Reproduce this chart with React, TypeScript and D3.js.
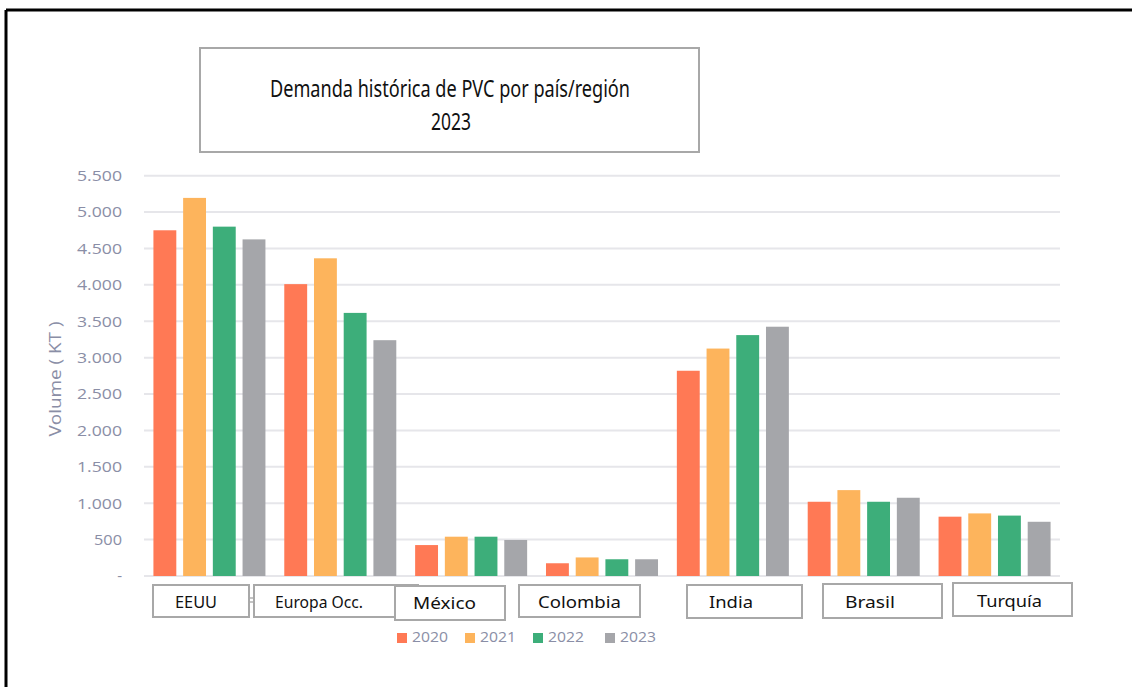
import React from "react";
import * as d3 from "d3";

const categories = ["EEUU", "Europa Occ.", "México", "Colombia", "India", "Brasil", "Turquía"];
const years = ["2020", "2021", "2022", "2023"];
const values2020 = [4750, 4010, 425, 175, 2820, 1020, 815];
const values2021 = [5195, 4365, 540, 255, 3125, 1180, 860];
const values2022 = [4800, 3615, 540, 230, 3310, 1020, 830];
const values2023 = [4625, 3240, 495, 230, 3425, 1075, 745];
const series = [values2020, values2021, values2022, values2023];
const colors = ["#FF7955", "#FDB45C", "#3DAE7A", "#A5A6AA"];
const yTicks = [0, 500, 1000, 1500, 2000, 2500, 3000, 3500, 4000, 4500, 5000, 5500];

// label boxes: left, top, width, height, text centre x, text width, baseline
const labelBoxes = [
  [153, 585, 96, 32, 196, 42, 608],
  [254, 585, 164, 32, 319, 88, 608],
  [395, 586, 110, 34, 444.5, 63, 609],
  [519, 585, 121, 32, 579.5, 83, 608],
  [687, 585, 115, 33, 731, 44, 608],
  [823, 584, 119, 34, 870, 50, 608],
  [953, 583, 119, 33, 1009.5, 65, 606.5],
];
const legendX = [397, 465, 533, 605];

const fmt = (v: number) => (v === 0 ? "-" : d3.format(",")(v).replace(/,/g, "."));

export default function App() {
  const W = 1132, H = 687;
  const x0 = d3.scaleBand<string>().domain(categories).range([144, 1060]).paddingInner(0.144).paddingOuter(0.072);
  const x1 = d3.scaleBand<string>().domain(years).range([0, x0.bandwidth()]).paddingInner(0.23);
  const y = d3.scaleLinear().domain([0, 5500]).range([576, 175.7]);
  const axisColor = "#8A8EA6";
  const font = "'Open Sans', sans-serif";
  const calibri = "'Noto Sans', sans-serif";

  return (
    <svg width={W} height={H} style={{ position: "absolute", left: 0, top: 0, background: "#fff" }}>
      <rect x={0} y={0} width={W} height={H} fill="#fff" />
      {/* outer frame */}
      <line x1={6} y1={10} x2={W} y2={10} stroke="#000" strokeWidth={3} />
      <line x1={6} y1={10} x2={6} y2={H} stroke="#000" strokeWidth={3} />

      {/* title box */}
      <rect x={200} y={48} width={499} height={104} fill="#fff" stroke="#A8A8A8" strokeWidth={2} />
      <text x={450} y={96.5} textAnchor="middle" fontFamily={calibri} fontSize={23} fill="#111" textLength={360} lengthAdjust="spacingAndGlyphs">
        Demanda histórica de PVC por país/región
      </text>
      <text x={451} y={130} textAnchor="middle" fontFamily={calibri} fontSize={23} fill="#111" textLength={40} lengthAdjust="spacingAndGlyphs">
        2023
      </text>

      {/* grid */}
      {yTicks.map((t) => (
        <line key={t} x1={144} x2={1060} y1={y(t)} y2={y(t)} stroke="#E6E6EA" strokeWidth={2} />
      ))}
      {/* y tick labels */}
      {yTicks.map((t) => (
        <text key={"l" + t} x={122} y={y(t)} dy="0.36em" textAnchor="end" fontFamily={font} fontSize={15} fill={axisColor}
          textLength={t === 0 ? undefined : t < 1000 ? 28 : 45} lengthAdjust="spacingAndGlyphs">
          {fmt(t)}
        </text>
      ))}
      <text transform={`translate(55,379) rotate(-90)`} textAnchor="middle" dy="0.35em" fontFamily={font} fontSize={16} fill={axisColor}
        textLength={115} lengthAdjust="spacingAndGlyphs">
        Volume ( KT )
      </text>

      {/* bars */}
      {categories.map((c, ci) => (
        <g key={c} transform={`translate(${x0(c)},0)`}>
          {series.map((s, si) => (
            <rect key={si} x={x1(years[si])} y={y(s[ci])} width={x1.bandwidth()} height={y(0) - y(s[ci])} fill={colors[si]} />
          ))}
        </g>
      ))}

      {/* category label boxes */}
      <line x1={249} x2={254} y1={598} y2={598} stroke="#B0B0B0" strokeWidth={1.5} />
      <line x1={249} x2={254} y1={602} y2={602} stroke="#B0B0B0" strokeWidth={1.5} />
      {categories.map((c, i) => {
        const [bx, by, bw, bh, tx, tw, tb] = labelBoxes[i];
        return (
          <g key={"b" + c}>
            <rect x={bx} y={by} width={bw} height={bh} fill="#fff" stroke="#A8A8A8" strokeWidth={2} />
            <text x={tx} y={tb} textAnchor="middle" fontFamily={calibri} fontSize={17} fill="#111"
              textLength={tw} lengthAdjust="spacingAndGlyphs">
              {c}
            </text>
          </g>
        );
      })}

      {/* legend */}
      {years.map((yr, i) => {
        const lx = legendX[i];
        return (
          <g key={yr}>
            <rect x={lx} y={633} width={10} height={10} fill={colors[i]} />
            <text x={lx + 15} y={642} fontFamily={font} fontSize={15} fill={axisColor} textLength={36} lengthAdjust="spacingAndGlyphs">
              {yr}
            </text>
          </g>
        );
      })}
    </svg>
  );
}
